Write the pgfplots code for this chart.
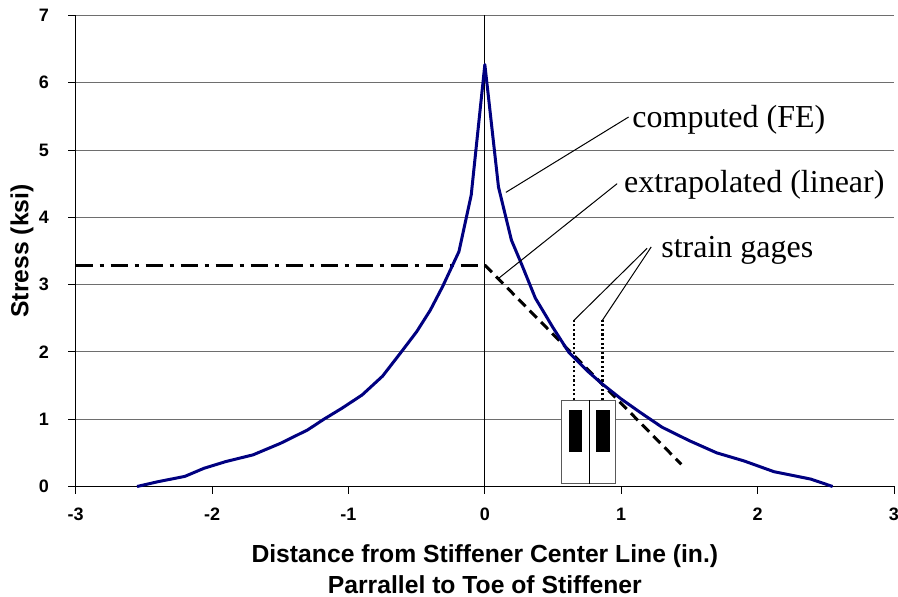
\documentclass[border=0pt]{standalone}
\usepackage{pgfplots}
\pgfplotsset{compat=1.18}
\usepackage{fontspec}
\setmainfont{Liberation Serif}
\newfontfamily\arial{Liberation Sans}
\definecolor{curvenavy}{RGB}{0,0,128}
\definecolor{gridgray}{RGB}{110,110,110}
\begin{document}
\begin{tikzpicture}
\useasboundingbox (-75.7pt,-110.5pt) rectangle (822.3pt,486.5pt);
\begin{axis}[
  scale only axis, width=818.3pt, height=471.1pt,
  xmin=-3, xmax=3, ymin=0, ymax=7,
  axis lines*=left,
  xtick={-3,-2,-1,0,1,2,3}, ytick={0,1,2,3,4,5,6,7},
  tick align=outside, major tick length=7.5pt,
  ymajorgrids, grid style={gridgray, line width=1pt},
  axis line style={black, line width=1pt},
  tick style={black, line width=1pt},
  /pgf/number format/assume math mode=true,
  tick label style={font=\arial\bfseries\fontsize{18}{20}\selectfont},
  yticklabel style={anchor=east, inner sep=0pt, xshift=-19.2pt},
  xticklabel style={anchor=north, inner sep=0pt, yshift=-14pt},
  xlabel={Distance from Stiffener Center Line (in.)\\Parrallel to Toe of Stiffener},
  xlabel style={at={(axis description cs:0.5,0)}, anchor=north, inner sep=0pt, yshift=-57.5pt, align=center, font=\arial\bfseries\fontsize{24.7}{31.5}\selectfont},
  ylabel={Stress (ksi)},
  ylabel style={at={([xshift=-53.7pt]axis description cs:0,0.5)}, anchor=center, inner sep=0pt, font=\arial\bfseries\fontsize{24.7}{30}\selectfont},
  clip=false,
]
% vertical line at x = 0
\addplot[black, line width=1pt] coordinates {(0,0) (0,7)};
% strain gage package
\addplot[fill=white, draw=black!65, line width=1pt] coordinates {(0.564,0.04) (0.961,0.04) (0.961,1.285) (0.564,1.285)} --cycle;
\addplot[black, line width=1pt] coordinates {(0.766,0.04) (0.766,1.285)};
\addplot[fill=black, draw=black, line width=0.5pt] coordinates {(0.62,0.53) (0.708,0.53) (0.708,1.13) (0.62,1.13)} --cycle;
\addplot[fill=black, draw=black, line width=0.5pt] coordinates {(0.82,0.53) (0.91,0.53) (0.91,1.13) (0.82,1.13)} --cycle;
% dotted gage leads
\addplot[black, line width=2.3pt, dash pattern=on 2.3pt off 2.3pt] coordinates {(0.654,1.285) (0.654,2.47)};
\addplot[black, line width=2.3pt, dash pattern=on 2.3pt off 2.3pt] coordinates {(0.862,1.285) (0.862,2.47)};
% extrapolation lines
\addplot[black, line width=3pt, dash pattern=on 17pt off 7pt on 4pt off 7pt] coordinates {(-3,3.29) (0,3.29)};
\addplot[black, line width=3pt, dash pattern=on 10pt off 6pt] coordinates {(0,3.29) (1.44,0.33)};
% computed FE stress
\addplot[curvenavy, line width=3pt, line join=round] coordinates {
(-2.55,0) (-2.4,0.07) (-2.2,0.15) (-2.06,0.27) (-1.9,0.37) (-1.7,0.47)
(-1.5,0.64) (-1.3,0.84) (-1.18,1.00) (-1.05,1.16) (-0.9,1.36) (-0.75,1.64)
(-0.62,1.98) (-0.5,2.30) (-0.4,2.62) (-0.31,2.97) (-0.19,3.49) (-0.10,4.33)
(0,6.27)
(0.10,4.45) (0.195,3.66) (0.27,3.30) (0.37,2.80) (0.5,2.36) (0.617,1.99)
(0.75,1.72) (0.857,1.53) (1.0,1.30) (1.14,1.10) (1.3,0.88) (1.5,0.68)
(1.70,0.50) (1.90,0.38) (2.12,0.22) (2.39,0.11) (2.55,0)
};
% leader lines
\addplot[black, line width=1pt] coordinates {(0.154,4.37) (1.054,5.49)};
\addplot[black, line width=1pt] coordinates {(0.093,3.08) (0.97,4.50)};
\addplot[black, line width=1pt] coordinates {(0.654,2.47) (1.19,3.54)};
\addplot[black, line width=1pt] coordinates {(0.862,2.47) (1.22,3.56)};
% annotations
\node[anchor=base west, inner sep=0pt, font=\fontsize{32}{36}\selectfont] at (axis cs:1.081,5.34) {computed (FE)};
\node[anchor=base west, inner sep=0pt, font=\fontsize{32}{36}\selectfont] at (axis cs:1.02,4.365) {extrapolated (linear)};
\node[anchor=base west, inner sep=0pt, font=\fontsize{32}{36}\selectfont] at (axis cs:1.293,3.405) {strain gages};
\end{axis}
\end{tikzpicture}
\end{document}
